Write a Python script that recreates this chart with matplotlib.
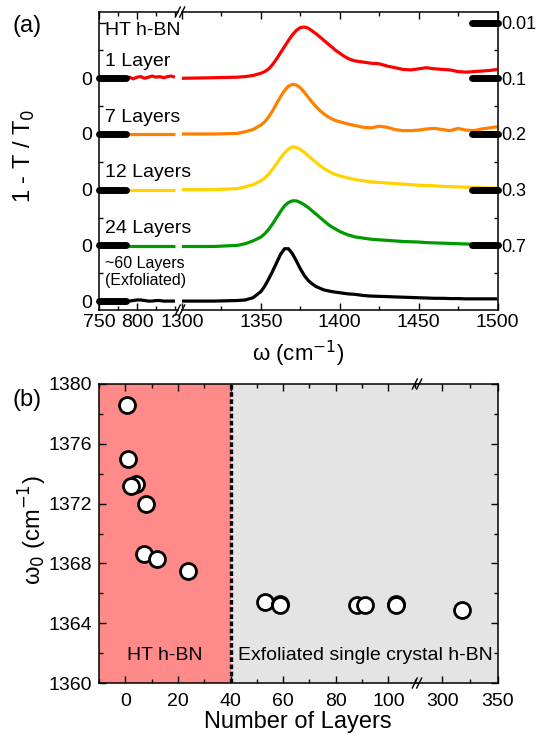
import numpy as np
import matplotlib
matplotlib.use("Agg")
import matplotlib.pyplot as plt
from matplotlib.lines import Line2D
from matplotlib.ticker import FixedLocator

plt.rcParams['font.family'] = ['Liberation Sans', 'DejaVu Sans']

# ---------------- data: panel (a) ----------------
labels = ['1 Layer', '7 Layers', '12 Layers', '24 Layers', '~60 Layers\n(Exfoliated)']
colors = ['#ff0000', '#ff8000', '#ffd200', '#009a00', '#000000']
offsets = [4, 3, 2, 1, 0]
scale_labels = ['0.01', '0.1', '0.2', '0.3', '0.7']
scale_levels = [5, 4, 3, 2, 1]

w_left = [785, 790, 795, 800, 805, 810, 815, 820, 825, 830, 835, 840, 845, 850]
left_1 = [0.0, 0.02, -0.01, 0.02, 0.03, 0.0, 0.02, 0.04, 0.02, 0.03, 0.01, 0.03, 0.04, 0.02]
left_7 = [0.0, 0.0, 0.0, 0.0, 0.0, 0.0, 0.0, 0.0, 0.0, 0.0, 0.0, 0.0, 0.0, 0.0]
left_12 = [0.0, 0.0, 0.0, 0.0, 0.0, 0.0, 0.0, 0.0, 0.0, 0.0, 0.0, 0.0, 0.0, 0.0]
left_24 = [-0.01, -0.01, -0.01, -0.01, -0.01, -0.01, -0.01, -0.01, -0.01, -0.01, -0.01, -0.01, -0.01, -0.01]
left_60 = [0.0, 0.0, 0.01, 0.02, 0.02, 0.01, 0.0, 0.0, 0.01, 0.01, 0.0, 0.0, 0.0, 0.0]

w_right = [1300, 1320, 1335, 1340, 1345,
           1350, 1352.5, 1355, 1357.5, 1360, 1362.5, 1365, 1367.5, 1370, 1372.5,
           1375, 1377.5, 1380, 1382.5, 1385, 1387.5, 1390, 1392.5, 1395, 1397.5,
           1400, 1402.5, 1405, 1407.5, 1410,
           1415, 1420, 1425, 1430, 1435, 1440, 1445, 1450, 1455, 1460,
           1465, 1470, 1475, 1480, 1485, 1490, 1495, 1500]
right_1 = [0.0, 0.01, 0.02, 0.03, 0.05,
           0.09, 0.12, 0.17, 0.25, 0.35, 0.46, 0.57, 0.68, 0.78, 0.86,
           0.91, 0.92, 0.90, 0.85, 0.80, 0.74, 0.68, 0.62, 0.56, 0.50,
           0.45, 0.40, 0.36, 0.33, 0.31,
           0.29, 0.27, 0.26, 0.22, 0.19, 0.16, 0.15, 0.17, 0.19, 0.17,
           0.16, 0.15, 0.12, 0.11, 0.12, 0.13, 0.14, 0.16]
right_7 = [0.0, 0.0, 0.01, 0.04, 0.08,
           0.16, 0.22, 0.31, 0.42, 0.55, 0.67, 0.78, 0.86, 0.89, 0.88,
           0.83, 0.75, 0.66, 0.57, 0.49, 0.42, 0.36, 0.31, 0.27, 0.24,
           0.22, 0.20, 0.18, 0.165, 0.15,
           0.12, 0.11, 0.14, 0.12, 0.08, 0.06, 0.06, 0.07, 0.09, 0.10,
           0.08, 0.06, 0.10, 0.07, 0.06, 0.09, 0.11, 0.13]
right_12 = [0.0, 0.0, 0.02, 0.05, 0.09,
            0.16, 0.21, 0.28, 0.37, 0.47, 0.57, 0.66, 0.73, 0.77, 0.76,
            0.72, 0.67, 0.61, 0.55, 0.49, 0.43, 0.38, 0.34, 0.30, 0.27,
            0.25, 0.23, 0.21, 0.195, 0.18,
            0.16, 0.14, 0.13, 0.12, 0.11, 0.10, 0.09, 0.08, 0.075, 0.07,
            0.06, 0.055, 0.05, 0.045, 0.04, 0.035, 0.03, 0.03]
right_24 = [-0.02, -0.02, 0.0, 0.03, 0.08,
            0.15, 0.21, 0.29, 0.39, 0.50, 0.61, 0.71, 0.77, 0.80, 0.80,
            0.77, 0.73, 0.68, 0.62, 0.56, 0.50, 0.44, 0.38, 0.33, 0.29,
            0.25, 0.22, 0.19, 0.17, 0.15,
            0.13, 0.11, 0.10, 0.09, 0.08, 0.07, 0.065, 0.06, 0.05, 0.045,
            0.04, 0.035, 0.03, 0.025, 0.02, 0.02, 0.015, 0.01]
right_60 = [0.0, 0.0, 0.01, 0.02, 0.06,
            0.17, 0.27, 0.40, 0.54, 0.69, 0.84, 0.94, 0.94, 0.85, 0.72,
            0.58, 0.46, 0.37, 0.31, 0.26, 0.23, 0.20, 0.185, 0.17, 0.16,
            0.15, 0.14, 0.13, 0.125, 0.12,
            0.10, 0.09, 0.085, 0.08, 0.075, 0.07, 0.065, 0.06, 0.055, 0.05,
            0.05, 0.045, 0.045, 0.04, 0.04, 0.04, 0.04, 0.04]

lefts = [left_1, left_7, left_12, left_24, left_60]
rights = [right_1, right_7, right_12, right_24, right_60]

# ---------------- data: panel (b) ----------------
n_ht = [0.5, 1, 4, 2, 8, 7, 12, 24]
w0_ht = [1378.6, 1375.0, 1373.3, 1373.2, 1372.0, 1368.6, 1368.3, 1367.5]
n_ex = [53, 59, 59, 88, 91, 103, 103, 318]
w0_ex = [1365.4, 1365.3, 1365.2, 1365.2, 1365.2, 1365.3, 1365.2, 1364.9]

W, H = 540, 736
fig = plt.figure(figsize=(W / 100, H / 100), dpi=100)


def px_axes(x0, y0, x1, y1):
    return fig.add_axes([x0 / W, 1 - y1 / H, (x1 - x0) / W, (y1 - y0) / H])


def break_mark(x, y):
    for dx in (-2.2, 2.2):
        fig.lines.append(Line2D([(x + dx - 2.5) / W, (x + dx + 2.5) / W],
                                [1 - (y + 5) / H, 1 - (y - 5) / H],
                                color='k', lw=1.0, transform=fig.transFigure,
                                figure=fig))


tick_kw = dict(direction='in', width=1.0, labelsize=14)

# ---------------- panel (a) ----------------
ax_l = px_axes(99, 12, 178, 310)
ax_r = px_axes(182, 12, 497.5, 310)
for ax in (ax_l, ax_r):
    ax.set_ylim(-0.16, 5.19)
    ax.patch.set_alpha(0)
    for s in ax.spines.values():
        s.set_linewidth(1.1)
ax_l.set_xlim(750, 854)
ax_r.set_xlim(1300, 1500)
ax_l.spines['right'].set_visible(False)
ax_r.spines['left'].set_visible(False)

for col, off, yl, yr in zip(colors, offsets, lefts, rights):
    ax_l.plot(w_left, np.array(yl) + off, color=col, lw=2.3, solid_capstyle='butt')
    ax_r.plot(w_right, np.array(yr) + off, color=col, lw=2.3,
              solid_joinstyle='round', solid_capstyle='butt')
    ax_l.plot([750, 785], [off, off], color='k', lw=5, solid_capstyle='round',
              clip_on=False, zorder=5)

for lev in scale_levels:
    ax_r.plot([1484, 1500], [lev, lev], color='k', lw=5, solid_capstyle='round',
              clip_on=False, zorder=5)

ax_l.text(758, 4.86, 'HT h-BN', fontsize=14, va='center')
for lab, off in zip(labels[:4], offsets[:4]):
    ax_l.text(758, off + 0.3, lab, fontsize=14, va='center')
ax_l.text(758, 0.52, labels[4], fontsize=11.5, va='center', linespacing=1.2)

ax_l.xaxis.set_major_locator(FixedLocator([750, 800]))
ax_l.xaxis.set_minor_locator(FixedLocator([775, 825, 850]))
ax_l.yaxis.set_major_locator(FixedLocator([0, 1, 2, 3, 4, 5]))
ax_l.set_yticklabels(['0', '0', '0', '0', '0', ''])
ax_l.yaxis.set_minor_locator(FixedLocator([0.5, 1.5, 2.5, 3.5, 4.5]))
ax_l.tick_params(which='both', top=True, right=False, **tick_kw)
ax_l.tick_params(axis='x', pad=3)
ax_l.tick_params(axis='y', pad=5)
ax_l.tick_params(which='major', length=5)
ax_l.tick_params(which='minor', length=3)

ax_r.xaxis.set_major_locator(FixedLocator([1300, 1350, 1400, 1450, 1500]))
ax_r.xaxis.set_minor_locator(FixedLocator([1325, 1375, 1425, 1475]))
ax_r.yaxis.set_major_locator(FixedLocator(scale_levels))
ax_r.set_yticklabels(scale_labels)
ax_r.yaxis.set_minor_locator(FixedLocator([0.5, 1.5, 2.5, 3.5, 4.5]))
ax_r.tick_params(which='both', top=True, left=False, labelleft=False,
                 right=True, labelright=True, **tick_kw)
ax_r.tick_params(axis='y', labelsize=13, pad=3)
ax_r.tick_params(axis='x', pad=3)
ax_r.tick_params(which='major', length=5)
ax_r.tick_params(which='minor', length=3)

break_mark(180, 12)
break_mark(180, 310)

fig.text(12 / W, 1 - 26 / H, '(a)', fontsize=17, va='center', ha='left')
fig.text(24 / W, 1 - 156 / H, r'1 - T / T$_0$', fontsize=17, rotation=90,
         va='center', ha='center')
fig.text(298 / W, 1 - 354 / H, 'ω (cm$^{-1}$)', fontsize=16,
         va='center', ha='center')

# ---------------- panel (b) ----------------
ax_bl = px_axes(99, 384, 417, 683)
ax_br = px_axes(417, 384, 497.5, 683)
for ax in (ax_bl, ax_br):
    ax.set_ylim(1360, 1380)
    for s in ax.spines.values():
        s.set_linewidth(1.1)
ax_bl.set_xlim(-10, 110.9)
ax_br.set_xlim(277.3, 350)
ax_bl.spines['right'].set_visible(False)
ax_br.spines['left'].set_visible(False)

ax_bl.set_facecolor('#e4e4e4')
ax_br.set_facecolor('#e4e4e4')
ax_bl.axvspan(-10, 40, color='#ff8a8a', lw=0, zorder=0)
ax_bl.axvline(40, color='k', lw=2.4, dashes=(1.4, 0.75), zorder=1)

mk = dict(ls='none', marker='o', ms=11.5, mfc='white', mec='k', mew=2.0, zorder=3)
ax_bl.plot(n_ht, w0_ht, **mk)
ax_bl.plot([n for n in n_ex if n < 111], [w for n, w in zip(n_ex, w0_ex) if n < 111], **mk)
ax_br.plot([n for n in n_ex if n > 111], [w for n, w in zip(n_ex, w0_ex) if n > 111], **mk)

ax_bl.xaxis.set_major_locator(FixedLocator([0, 20, 40, 60, 80, 100]))
ax_bl.xaxis.set_minor_locator(FixedLocator([-10, 10, 30, 50, 70, 90, 110]))
ax_bl.yaxis.set_major_locator(FixedLocator([1360, 1364, 1368, 1372, 1376, 1380]))
ax_bl.yaxis.set_minor_locator(FixedLocator([1362, 1366, 1370, 1374, 1378]))
ax_bl.tick_params(which='both', top=True, right=False, **tick_kw)
ax_bl.tick_params(axis='x', pad=7)
ax_bl.tick_params(axis='y', pad=5)
ax_bl.tick_params(which='major', length=5)
ax_bl.tick_params(which='minor', length=3)

ax_br.xaxis.set_major_locator(FixedLocator([300, 350]))
ax_br.xaxis.set_minor_locator(FixedLocator([325]))
ax_br.yaxis.set_major_locator(FixedLocator([1360, 1364, 1368, 1372, 1376, 1380]))
ax_br.yaxis.set_minor_locator(FixedLocator([1362, 1366, 1370, 1374, 1378]))
ax_br.tick_params(which='both', top=True, left=False, right=True,
                  labelleft=False, **tick_kw)
ax_br.tick_params(axis='x', pad=7)
ax_br.tick_params(which='major', length=5)
ax_br.tick_params(which='minor', length=3)

break_mark(417, 384)
break_mark(417, 683)

fig.text(165 / W, 1 - 655 / H, 'HT h-BN', fontsize=14, va='center', ha='center')
fig.text(365 / W, 1 - 655 / H, 'Exfoliated single crystal h-BN', fontsize=14,
         va='center', ha='center')
fig.text(12 / W, 1 - 400 / H, '(b)', fontsize=17, va='center', ha='left')
fig.text(33 / W, 1 - 530 / H, 'ω$_0$ (cm$^{-1}$)', fontsize=17, rotation=90,
         va='center', ha='center')
fig.text(298 / W, 1 - 722 / H, 'Number of Layers', fontsize=17,
         va='center', ha='center')

fig.savefig('out.png', dpi=100)
